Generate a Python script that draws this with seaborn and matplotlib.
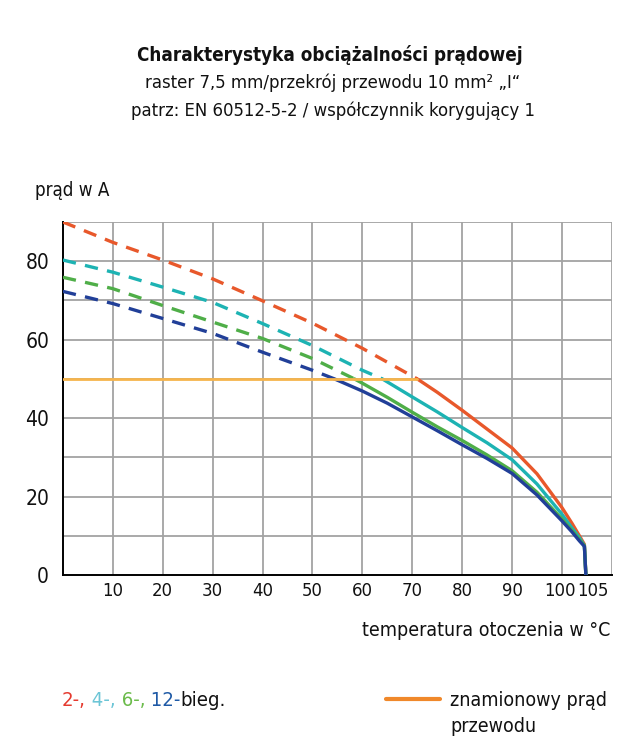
import numpy as np
import matplotlib
matplotlib.use("Agg")
import matplotlib.pyplot as plt
from matplotlib.ticker import MultipleLocator
from matplotlib.transforms import ScaledTranslation
import seaborn as sns

sns.set_style("white")
plt.rcParams["font.family"] = ["DejaVu Sans"]
plt.rcParams["font.stretch"] = "condensed"
plt.rcParams["text.color"] = "#111111"
plt.rcParams["xtick.color"] = "#111111"
plt.rcParams["ytick.color"] = "#111111"

# ---------------------------------------------------------------- data
RATED = 50
t_2 = [0, 10, 20, 30, 40, 50, 60, 71, 75, 80, 85, 90, 95, 100, 102, 103.5, 104.5, 104.8]
i_2 = [90, 84.8, 80.3, 75.5, 69.9, 64.2, 57.8, 50, 46.6, 42, 37.2, 32.4, 25.8, 17.2, 13.2, 10, 7.8, 0]
t_4 = [0, 10, 20, 30, 40, 50, 60, 64, 70, 75, 80, 85, 90, 95, 100, 102, 103.5, 104.5, 104.8]
i_4 = [80.3, 77.2, 73.4, 69.5, 64.1, 58.5, 52.2, 50, 45.4, 41.6, 37.6, 33.7, 29.4, 23.2, 15.5, 12.0, 9.5, 7.5, 0]
t_6 = [0, 10, 20, 30, 40, 50, 58.4, 60, 65, 70, 75, 80, 85, 90, 95, 100, 102, 103.5, 104.5, 104.8]
i_6 = [75.9, 73, 68.7, 64.5, 60.3, 55.2, 50, 48.9, 45.3, 41.5, 37.8, 34.3, 30.6, 26.6, 21.1, 14.3, 11.4, 9, 7.5, 0]
t_12 = [0, 10, 20, 30, 40, 50, 54.4, 60, 65, 70, 75, 80, 85, 90, 95, 100, 102, 103.5, 104.5, 104.8]
i_12 = [72.3, 69.2, 65.4, 61.6, 56.8, 52.2, 50, 46.9, 43.8, 40.3, 36.8, 33.2, 29.7, 25.9, 20.4, 13.8, 11, 8.7, 7.3, 0]
rated_t = [0, 71]
rated_i = [RATED, RATED]

series = [("2-", t_2, i_2, "#e8582b"),
          ("4-", t_4, i_4, "#1db3b3"),
          ("6-", t_6, i_6, "#4fae48"),
          ("12-", t_12, i_12, "#213f98")]

x_ticks = [10, 20, 30, 40, 50, 60, 70, 80, 90, 100, 105]
y_ticks = [0, 10, 20, 30, 40, 50, 60, 70, 80, 90]
y_labels = ["0", "", "20", "", "40", "", "60", "", "80", ""]

# ---------------------------------------------------------------- figure
fig = plt.figure(figsize=(6.42, 7.54), dpi=100)
ax = fig.add_axes([0.098, 0.2374, 0.855, 0.4682])

for xv in range(10, 111, 10):
    ax.axvline(xv, color="#a3a3a3", lw=1.3, zorder=0)
for yv in range(10, 91, 10):
    ax.axhline(yv, color="#a3a3a3", lw=1.3, zorder=0)

sns.lineplot(x=rated_t, y=rated_i, ax=ax, color="#f6b44c", lw=2.0, zorder=4)

for name, t, i, col in series:
    t = np.array(t); i = np.array(i)
    up = i >= RATED
    lo = i <= RATED
    sns.lineplot(x=t[up], y=i[up], ax=ax, color=col, lw=2.4, sort=False,
                 linestyle=(0, (4, 2.8)), zorder=3)
    sns.lineplot(x=t[lo], y=i[lo], ax=ax, color=col, lw=2.4, sort=False, zorder=3)

ax.set_xlim(0, 110)
ax.set_ylim(0, 90)
ax.set_xticks(x_ticks)
ax.set_xticklabels([str(v) for v in x_ticks])
ax.set_yticks(y_ticks)
ax.set_yticklabels(y_labels)
ax.xaxis.set_minor_locator(MultipleLocator(2))
ax.yaxis.set_minor_locator(MultipleLocator(2))
ax.tick_params(axis="both", which="major", direction="inout", length=6, width=1.2,
               labelsize=13.2, color="black", pad=2)
ax.tick_params(axis="both", which="minor", direction="inout", length=3, width=1.0,
               color="black")
ax.tick_params(axis="y", pad=7, labelsize=15)
# nudge the "100" / "105" labels apart as in the original
lbls = ax.get_xticklabels()
lbls[-2].set_transform(lbls[-2].get_transform() + ScaledTranslation(-0.015, 0, fig.dpi_scale_trans))
lbls[-1].set_transform(lbls[-1].get_transform() + ScaledTranslation(0.065, 0, fig.dpi_scale_trans))
for s in ("top", "right"):
    ax.spines[s].set_visible(False)
for s in ("left", "bottom"):
    ax.spines[s].set_color("black")
    ax.spines[s].set_linewidth(1.4)
ax.set_xlabel("")
ax.set_ylabel("")

# ---------------------------------------------------------------- texts
fig.text(0.514, 0.927, "Charakterystyka obciążalności prądowej", ha="center",
         va="center", fontsize=13.5, fontweight="bold")
fig.text(0.518, 0.890, "raster 7,5 mm/przekrój przewodu 10 mm² „I“", ha="center",
         va="center", fontsize=13.2)
fig.text(0.518, 0.853, "patrz: EN 60512-5-2 / współczynnik korygujący 1", ha="center",
         va="center", fontsize=13.2)
fig.text(0.054, 0.748, "prąd w A", ha="left", va="center", fontsize=13.5)
fig.text(0.951, 0.164, "temperatura otoczenia w °C", ha="right", va="center",
         fontsize=14)

# legend (left): coloured counts
fig.canvas.draw()
rend = fig.canvas.get_renderer()
x = 62
parts = [("2-,", "#e53a2f"), (" 4-,", "#6cc5d6"), (" 6-,", "#6bbb4b"),
         (" 12-", "#1f5aa6"), ("bieg.", "#111111")]
for txt, col in parts:
    tt = fig.text(x / 642, 1 - 700 / 754, txt, ha="left", va="center",
                  fontsize=14.6, color=col)
    x = tt.get_window_extent(rend).x1

# legend (right): rated current line
fig.add_artist(plt.Line2D([386 / 642, 440 / 642], [1 - 699 / 754, 1 - 699 / 754],
                          color="#f0882a", lw=3))
fig.text(450 / 642, 1 - 700 / 754, "znamionowy prąd", ha="left", va="center",
         fontsize=14)
fig.text(450 / 642, 1 - 727 / 754, "przewodu", ha="left", va="center", fontsize=14)

fig.savefig("out.png", dpi=100)
